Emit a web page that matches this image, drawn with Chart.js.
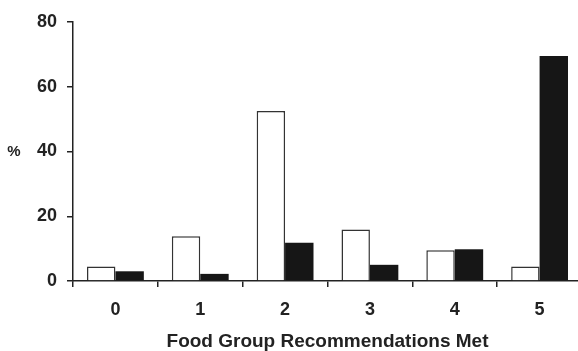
<!DOCTYPE html>
<html>
<head>
<meta charset="utf-8">
<script src="https://cdn.jsdelivr.net/npm/chart.js@4"></script>
<style>
  html, body { margin: 0; padding: 0; background: #fff; overflow: hidden; }
  #wrap { position: absolute; left: 0; top: 0; width: 582px; height: 351px; }
</style>
</head>
<body>
<div id="wrap"><canvas id="myChart" width="582" height="351"></canvas></div>
<script>
const categories = ["0", "1", "2", "3", "4", "5"];
const openValues = [4.5, 13.8, 52.5, 15.9, 9.5, 4.5];
const filledValues = [3.0, 2.2, 11.8, 5.0, 9.8, 69.5];
const yTicks = [0, 20, 40, 60, 80];
const xTitle = "Food Group Recommendations Met";
const yTitle = "%";

const canvasChart = document.getElementById("myChart");
const axisColor = "#222";
const tickFont = { family: "Liberation Sans, Arial, sans-serif", size: 18, weight: "bold" };

// "%" sits horizontal left of the axis, so draw it by hand
const yTitlePlugin = {
  id: "yTitle",
  afterDraw(chart) {
    const ctx = chart.ctx;
    const y = chart.scales.y.getPixelForValue(40);
    ctx.save();
    ctx.fillStyle = axisColor;
    ctx.font = "bold 15px Liberation Sans, Arial, sans-serif";
    ctx.textAlign = "center";
    ctx.textBaseline = "middle";
    ctx.fillText(yTitle, 14, y);
    ctx.restore();
  },
};

var barChart = new Chart(canvasChart, {
  type: "bar",
  data: {
    labels: categories,
    datasets: [
      {
        label: "Open",
        data: openValues,
        backgroundColor: "#fff",
        borderColor: "#333",
        borderWidth: 1.5,
      },
      {
        label: "Filled",
        data: filledValues,
        backgroundColor: "#161616",
        borderColor: "#161616",
        borderWidth: 0,
      },
    ],
  },
  options: {
    responsive: false,
    animation: false,
    layout: { padding: { top: 22, left: 0, right: 0, bottom: 0 } },
    plugins: { legend: { display: false }, tooltip: { enabled: false } },
    categoryPercentage: 0.67,
    barPercentage: 1.0,
    scales: {
      x: {
        grid: {
          offset: true,
          drawOnChartArea: false,
          tickLength: 6,
          color: axisColor,
          lineWidth: 1.5,
        },
        border: { color: axisColor, width: 1.5 },
        ticks: { color: axisColor, font: tickFont, padding: 12 },
        title: {
          display: true,
          text: xTitle,
          color: axisColor,
          font: { family: tickFont.family, size: 19, weight: "bold", lineHeight: 1 },
          padding: { top: 0, bottom: 0 },
        },
        afterFit(scale) { scale.height = 70; },
      },
      y: {
        min: 0,
        max: 80,
        afterBuildTicks(scale) { scale.ticks = yTicks.map((v) => ({ value: v })); },
        grid: {
          drawOnChartArea: false,
          tickLength: 6,
          color: axisColor,
          lineWidth: 1.5,
        },
        border: { color: axisColor, width: 1.5 },
        ticks: { color: axisColor, font: tickFont, padding: 10 },
        afterFit(scale) { scale.width = 73; },
      },
    },
  },
  plugins: [yTitlePlugin],
});
</script>
</body>
</html>
